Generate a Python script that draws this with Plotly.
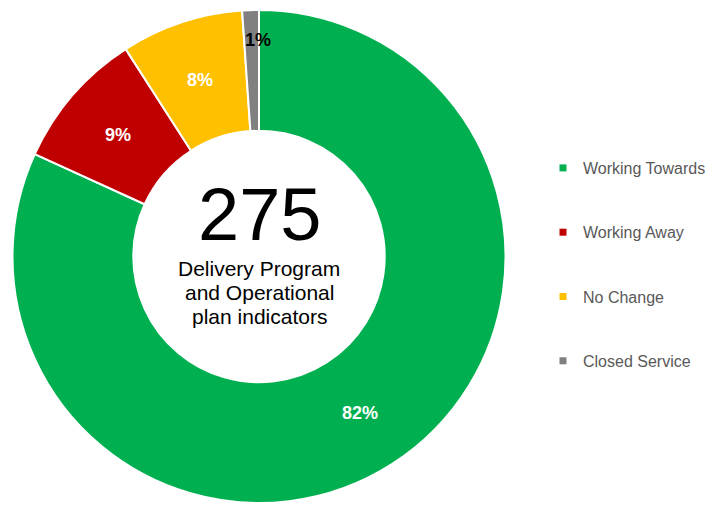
import math
import plotly.graph_objects as go

labels = ["Working Towards", "Working Away", "No Change", "Closed Service"]
values = [225, 25, 22, 3]
colors = ["#00B050", "#C00000", "#FFC000", "#808080"]
text_colors = ["white", "white", "white", "black"]
total_label = "275"
caption_lines = ["Delivery Program", "and Operational", "plan indicators"]

FONT = "Arial, Liberation Sans, sans-serif"
W, H = 706, 505

# pie geometry (pixels)
X0, X1 = 12.5, 505.5
Y0, Y1 = 2.0, 495.0          # paper-y in pixels from bottom
HOLE = 0.51
# where each percent label sits: fraction of the slice angle and of the radius
label_angle_frac = [0.5, 0.5, 0.5, 0.9]
label_radius_frac = [(1 + HOLE) / 2] * 3 + [0.88]

fig = go.Figure()
fig.add_trace(go.Pie(
    labels=labels,
    values=values,
    sort=False,
    direction="clockwise",
    rotation=0,
    hole=HOLE,
    marker=dict(colors=colors, line=dict(color="white", width=2)),
    textinfo="none",
    showlegend=False,
    hoverinfo="label+value+percent",
    domain=dict(x=[X0 / W, X1 / W], y=[Y0 / H, Y1 / H]),
))

# percent labels placed on the slices, computed from the values
total = sum(values)
cxp, cyp = (X0 + X1) / 2, (Y0 + Y1) / 2
R = min(X1 - X0, Y1 - Y0) / 2
cum = 0
for v, tc, af, rf in zip(values, text_colors, label_angle_frac, label_radius_frac):
    theta = 2 * math.pi * (cum + v * af) / total
    px = cxp + rf * R * math.sin(theta)
    py = cyp + rf * R * math.cos(theta)
    fig.add_annotation(x=px / W, y=py / H, xref="paper", yref="paper",
                       xanchor="center", yanchor="middle",
                       text=f"<b>{round(100 * v / total)}%</b>", showarrow=False,
                       font=dict(family=FONT, size=18, color=tc))
    cum += v

for i, (lab, col) in enumerate(zip(labels, colors)):
    fig.add_trace(go.Scatter(
        x=[None], y=[None], mode="markers", name=lab,
        marker=dict(symbol="square", size=7, color=col),
        legendgroup=f"g{i}", showlegend=True,
    ))

cx = cxp / W
fig.add_annotation(x=cx, y=1 - 214.5 / H, xref="paper", yref="paper",
                   xanchor="center", yanchor="middle",
                   text=total_label, showarrow=False,
                   font=dict(family=FONT, size=74, color="black"))
for k, line in enumerate(caption_lines):
    fig.add_annotation(x=cx, y=1 - (268.5 + 24 * k) / H, xref="paper", yref="paper",
                       xanchor="center", yanchor="middle",
                       text=line, showarrow=False,
                       font=dict(family=FONT, size=21, color="black"))

fig.update_layout(
    width=W, height=H,
    margin=dict(l=0, r=0, t=0, b=0, autoexpand=False),
    paper_bgcolor="white", plot_bgcolor="white",
    xaxis=dict(visible=False), yaxis=dict(visible=False),
    legend=dict(
        x=543 / W, y=1 - 151 / H, xanchor="left", yanchor="top",
        font=dict(family=FONT, size=16, color="#595959"),
        tracegroupgap=40.5, itemwidth=30,
        bgcolor="rgba(0,0,0,0)",
    ),
)

fig.write_html(
    "out.html",
    config={"displayModeBar": False},
    post_script="document.body.style.margin='0';document.body.style.overflow='hidden';",
)
